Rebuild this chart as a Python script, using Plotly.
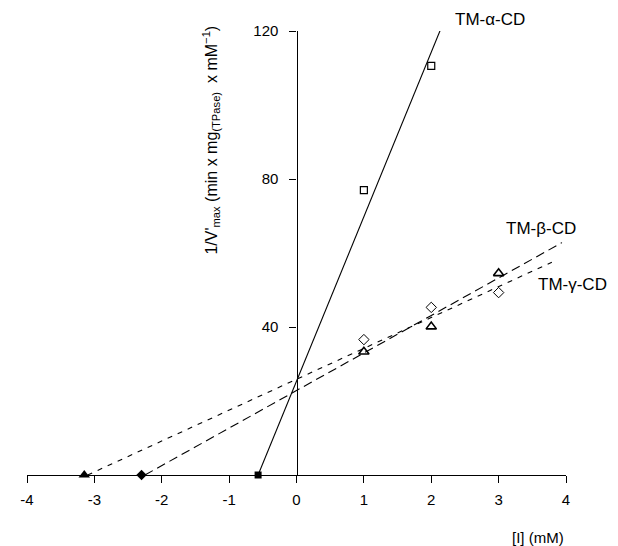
import plotly.graph_objects as go

# ---- data ----
alpha_x = [1.0, 2.0]
alpha_y = [77.0, 110.6]
beta_x = [1.0, 2.0, 3.0]
beta_y = [33.3, 40.1, 54.5]
gamma_x = [1.0, 2.0, 3.0]
gamma_y = [36.6, 45.3, 49.3]

# x-intercepts (filled markers on the x axis)
alpha_int_x = [-0.57]
diam_int_x = [-2.30]
tri_int_x = [-3.15]
int_y = [0.0]

# fitted lines (end points)
alpha_fit_x = [-0.57, 2.14]
alpha_fit_y = [0.0, 120.5]
long_fit_x = [-2.25, 3.94]
long_fit_y = [0.0, 62.8]
short_fit_x = [-3.10, 3.79]
short_fit_y = [0.0, 57.5]

x_ticks = [-4, -3, -2, -1, 0, 1, 2, 3, 4]
y_ticks = [40, 80, 120]

FONT = "Liberation Sans, Arial, sans-serif"

fig = go.Figure()
lw = 1.1
fig.add_trace(go.Scatter(x=alpha_fit_x, y=alpha_fit_y, mode="lines",
                         line=dict(color="black", width=lw), cliponaxis=False))
fig.add_trace(go.Scatter(x=long_fit_x, y=long_fit_y, mode="lines",
                         line=dict(color="black", width=lw, dash="9px,5px"), cliponaxis=False))
fig.add_trace(go.Scatter(x=short_fit_x, y=short_fit_y, mode="lines",
                         line=dict(color="black", width=lw, dash="5px,6px"), cliponaxis=False))

fig.add_trace(go.Scatter(x=alpha_x, y=alpha_y, mode="markers",
                         marker=dict(symbol="square-open", size=7, color="black",
                                     line=dict(width=1.2)), cliponaxis=False))
fig.add_trace(go.Scatter(x=beta_x, y=beta_y, mode="markers",
                         marker=dict(symbol="triangle-up-open", size=9, color="black",
                                     line=dict(width=1.6)), cliponaxis=False))
fig.add_trace(go.Scatter(x=gamma_x, y=gamma_y, mode="markers",
                         marker=dict(symbol="diamond-open", size=8, color="black",
                                     line=dict(width=1)), cliponaxis=False))

fig.add_trace(go.Scatter(x=alpha_int_x, y=int_y, mode="markers",
                         marker=dict(symbol="square", size=7, color="black"), cliponaxis=False))
fig.add_trace(go.Scatter(x=diam_int_x, y=int_y, mode="markers",
                         marker=dict(symbol="diamond", size=8, color="black"), cliponaxis=False))
fig.add_trace(go.Scatter(x=tri_int_x, y=int_y, mode="markers",
                         marker=dict(symbol="triangle-up", size=10, color="black"), cliponaxis=False))

ann_font = dict(family=FONT, size=17, color="black")
fig.add_annotation(x=0.79, y=1.025, xref="paper", yref="paper", text="TM-α-CD",
                   showarrow=False, xanchor="left", yanchor="middle", font=ann_font)
fig.add_annotation(x=3.08, y=66.5, text="TM-β-CD", showarrow=False,
                   xanchor="left", yanchor="middle", font=ann_font)
fig.add_annotation(x=3.55, y=51.5, text="TM-γ-CD", showarrow=False,
                   xanchor="left", yanchor="middle", font=ann_font)
fig.add_annotation(x=1.0, xref="paper", xanchor="right", y=-0.14, yref="paper",
                   yanchor="middle", text="[I] (mM)", showarrow=False,
                   font=dict(family=FONT, size=15, color="black"))
fig.add_annotation(x=0.341, y=0.755, xref="paper", yref="paper", textangle=-90,
                   xanchor="center", yanchor="middle",
                   text="1/V'<sub>max</sub> (min x mg<sub>(TPase)</sub>  x mM<sup>−1</sup>)",
                   showarrow=False, font=dict(family=FONT, size=16, color="black"))

fig.update_layout(
    width=618, height=546,
    margin=dict(l=13, r=60, t=23, b=79),
    paper_bgcolor="white", plot_bgcolor="white",
    showlegend=False,
    font=dict(family=FONT, size=14, color="black"),
    xaxis=dict(range=[-4, 4], tickvals=x_ticks, ticktext=[str(v) for v in x_ticks],
               showgrid=False, zeroline=False, showline=True, linecolor="black",
               linewidth=1.2, ticks="outside", ticklen=7, tickwidth=1.2,
               tickcolor="black", ticklabelstandoff=4,
               tickfont=dict(family=FONT, size=15)),
    yaxis=dict(range=[0, 120], tickvals=y_ticks, showgrid=False, zeroline=False,
               showline=True, linecolor="black", linewidth=1.2, ticks="outside",
               ticklen=7, tickwidth=1.2, tickcolor="black",
               anchor="free", position=0.5, ticklabelstandoff=8,
               tickfont=dict(family=FONT, size=15)),
)

fig.write_html("out.html")
